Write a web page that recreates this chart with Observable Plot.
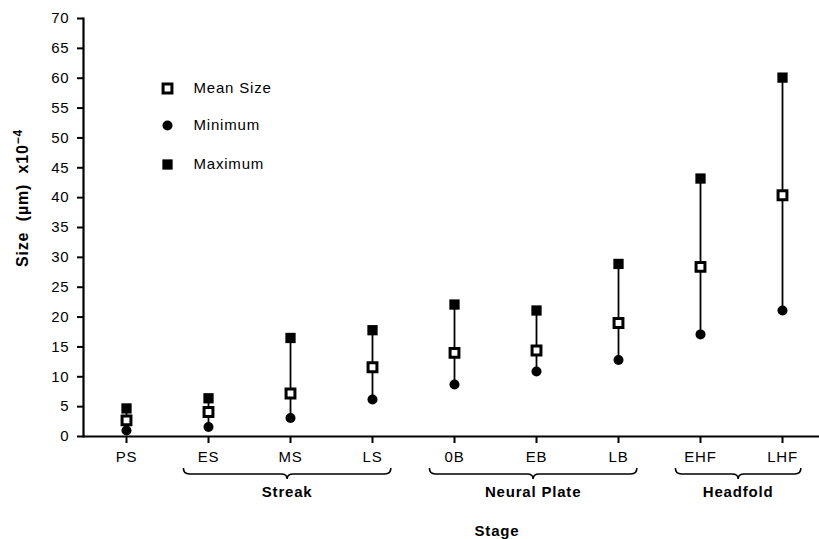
<!DOCTYPE html>
<html><head><meta charset="utf-8">
<script src="https://cdn.jsdelivr.net/npm/d3@7"></script>
<script src="https://cdn.jsdelivr.net/npm/@observablehq/plot@0.6"></script>
<style>
body{margin:0;background:#fff}
svg text{letter-spacing:0.8px}
</style>
</head><body><div id="chart"></div>
<script>
const stages = ["PS","ES","MS","LS","0B","EB","LB","EHF","LHF"];
const meanSize = [2.7,4.1,7.2,11.6,14.0,14.4,19.0,28.4,40.4];
const minimum  = [1.0,1.6,3.1,6.2,8.7,10.9,12.8,17.1,21.1];
const maximum  = [4.7,6.4,16.5,17.8,22.1,21.1,28.9,43.2,60.1];
const yTicks = [0,5,10,15,20,25,30,35,40,45,50,55,60,65,70];
const groupLabels = ["Streak","Neural Plate","Headfold"];
const groupStart = ["ES","0B","EHF"];
const groupEnd = ["LS","LB","LHF"];
const legendLabels = ["Mean Size","Minimum","Maximum"];

const rows = stages.map((s,i)=>({stage:s, mean:meanSize[i], min:minimum[i], max:maximum[i]}));
const font = "Liberation Sans, Arial, Helvetica, sans-serif";

const meanStyle = {symbol:"square", r:5, fill:"#fff", stroke:"#000", strokeWidth:3};
const minStyle = {symbol:"circle", r:5, fill:"#000"};
const maxStyle = {symbol:"square", r:5.8, fill:"#000"};
const legendStyles = [meanStyle, minStyle, maxStyle];
const legendDy = [70,107,146];

const chart = Plot.plot({
  width:819, height:539,
  marginLeft:83, marginRight:0, marginTop:18, marginBottom:103,
  style:{fontFamily:font, fontSize:"15px", color:"#000", background:"#fff"},
  x:{type:"point", domain:stages, padding:0, insetLeft:41, insetRight:36},
  y:{domain:[0,70]},
  marks:[
    Plot.axisY({ticks:yTicks, tickSize:6, tickPadding:8, label:null, strokeWidth:2, fontSize:15}),
    Plot.axisX({tickSize:7, tickPadding:8, label:null, strokeWidth:2, fontSize:15}),
    Plot.frame({anchor:"left", strokeWidth:2.2}),
    Plot.ruleY([0], {stroke:"#000", strokeWidth:2.2}),
    Plot.ruleX(rows, {x:"stage", y1:"min", y2:"max", stroke:"#000", strokeWidth:1.8}),
    Plot.dot(rows, {x:"stage", y:"min", ...minStyle}),
    Plot.dot(rows, {x:"stage", y:"max", ...maxStyle}),
    Plot.dot(rows, {x:"stage", y:"mean", ...meanStyle}),
    ...legendLabels.map((lab,i)=>Plot.dot([lab], {frameAnchor:"top-left", dx:84, dy:legendDy[i], ...legendStyles[i]})),
    ...legendLabels.map((lab,i)=>Plot.text([lab], {text:d=>d, frameAnchor:"top-left", dx:110, dy:legendDy[i], textAnchor:"start", lineAnchor:"middle", fontSize:15}))
  ]
});
document.getElementById("chart").append(chart);

// annotations: braces and titles
const svg = d3.select(chart);
const xs = chart.scale("x");
const step = xs.apply(stages[1]) - xs.apply(stages[0]);
const yb = 474;
groupLabels.forEach((g,i)=>{
  const a = xs.apply(groupStart[i]) - 0.3*step;
  const b = xs.apply(groupEnd[i]) + 0.23*step;
  const m = (a+b)/2;
  const p = d3.path();
  p.moveTo(a, yb-6);
  p.quadraticCurveTo(a, yb, a+6, yb);
  p.lineTo(m-6, yb);
  p.quadraticCurveTo(m, yb, m, yb+5);
  p.quadraticCurveTo(m, yb, m+6, yb);
  p.lineTo(b-6, yb);
  p.quadraticCurveTo(b, yb, b, yb-6);
  svg.append("path").attr("d", p.toString()).attr("fill","none").attr("stroke","#000").attr("stroke-width",1.6);
  svg.append("text").attr("x", m).attr("y", 497).attr("text-anchor","middle")
    .attr("font-family", font).attr("font-weight","bold").attr("font-size",15)
    .attr("letter-spacing","1.3px").text(g);
});
svg.append("text").attr("x", 497).attr("y", 536).attr("text-anchor","middle")
  .attr("font-family", font).attr("font-weight","bold").attr("font-size",15)
  .attr("letter-spacing","2.5px").text("Stage");
const yl = svg.append("text").attr("transform","translate(28,198) rotate(-90)")
  .attr("text-anchor","middle").attr("font-family", font).attr("font-weight","bold")
  .attr("font-size",16).attr("letter-spacing","1.5px").style("white-space","pre");
yl.append("tspan").text("Size  (\u00b5m)  x10");
yl.append("tspan").attr("dy",-6).attr("font-size",12).text("\u22124");
</script>
</body></html>
